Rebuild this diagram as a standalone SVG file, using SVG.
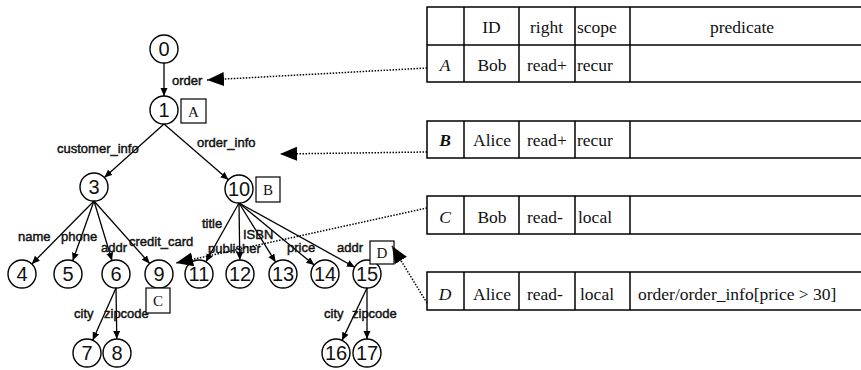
<svg xmlns="http://www.w3.org/2000/svg" width="861" height="370" viewBox="0 0 861 370">
  <style>
    .node circle { fill: #fff; stroke: #000; stroke-width: 1.4; }
    .num { font-family: "Liberation Sans", Arial, sans-serif; font-size: 20px; text-anchor: middle; fill: #111; }
    .edge { stroke: #000; stroke-width: 1.3; fill: none; marker-end: url(#tip); }
    .lbl { font-family: "Liberation Sans", Arial, sans-serif; font-size: 13px; fill: #111; stroke: #111; stroke-width: 0.45; }
    .tag rect { fill: #fff; stroke: #000; stroke-width: 1.2; }
    .tag text { font-family: "Liberation Serif", "Times New Roman", serif; font-size: 15px; text-anchor: middle; fill: #111; }
    .tbl rect, .tbl line { fill: none; stroke: #000; stroke-width: 1.5; }
    .cell { font-family: "Liberation Serif", "Times New Roman", serif; font-size: 17.5px; fill: #111; }
    .mid { text-anchor: middle; }
    .it { font-style: italic; }
    .ref { stroke: #000; stroke-width: 1.5; stroke-dasharray: 1.5 1.5; fill: none; marker-end: url(#big); }
  </style>
  <defs>
    <marker id="tip" markerUnits="userSpaceOnUse" markerWidth="9" markerHeight="8" refX="8" refY="3.5" orient="auto">
      <path d="M0,0 L8,3.5 L0,7 z" fill="#000"/>
    </marker>
    <marker id="big" markerUnits="userSpaceOnUse" markerWidth="18" markerHeight="16" refX="17" refY="7" orient="auto">
      <path d="M0,0 L17,7 L0,14 z" fill="#000"/>
    </marker>
  </defs>

  <rect width="861" height="370" fill="#fff"/>

  <!-- tree edges -->
  <g id="edges">
    <line class="edge" x1="164" y1="63" x2="164" y2="96"/>
    <line class="edge" x1="164" y1="124" x2="104.4" y2="177.6"/>
    <line class="edge" x1="164" y1="124" x2="228.4" y2="179.8"/>
    <line class="edge" x1="94" y1="201" x2="31.8" y2="264"/>
    <line class="edge" x1="94" y1="201" x2="72.7" y2="260.8"/>
    <line class="edge" x1="94" y1="201" x2="112" y2="260.6"/>
    <line class="edge" x1="94" y1="201" x2="149.7" y2="263.5"/>
    <line class="edge" x1="116" y1="288" x2="92.7" y2="340.2"/>
    <line class="edge" x1="116" y1="288" x2="116.8" y2="339"/>
    <line class="edge" x1="239" y1="203" x2="205.9" y2="261.8"/>
    <line class="edge" x1="239" y1="203" x2="239.8" y2="260"/>
    <line class="edge" x1="239" y1="203" x2="275.6" y2="262.1"/>
    <line class="edge" x1="239" y1="203" x2="314.2" y2="265.1"/>
    <line class="edge" x1="239" y1="203" x2="354.8" y2="267.2"/>
    <line class="edge" x1="367" y1="288" x2="342" y2="340.4"/>
    <line class="edge" x1="367" y1="288" x2="367" y2="339"/>
  </g>

  <!-- edge labels -->
  <g id="edge-labels" class="lbl">
    <text x="172" y="85">order</text>
    <text x="57" y="153">customer_info</text>
    <text x="197" y="147">order_info</text>
    <text x="18" y="241">name</text>
    <text x="61" y="241">phone</text>
    <text x="101" y="252">addr</text>
    <text x="129" y="246">credit_card</text>
    <text x="74" y="318">city</text>
    <text x="104" y="318">zipcode</text>
    <text x="202" y="228">title</text>
    <text x="243" y="239">ISBN</text>
    <text x="208" y="253">publisher</text>
    <text x="287" y="252">price</text>
    <text x="337" y="252">addr</text>
    <text x="324" y="318">city</text>
    <text x="352" y="318">zipcode</text>
  </g>

  <!-- tree nodes -->
  <g id="n0" class="node"><circle cx="164" cy="49" r="14"/><text class="num" x="164" y="56">0</text></g>
  <g id="n1" class="node"><circle cx="164" cy="110" r="14"/><text class="num" x="164" y="117">1</text></g>
  <g id="n3" class="node"><circle cx="94" cy="187" r="14"/><text class="num" x="94" y="194">3</text></g>
  <g id="n10" class="node"><circle cx="239" cy="189" r="14"/><text class="num" x="239" y="196">10</text></g>
  <g id="n4" class="node"><circle cx="22" cy="274" r="14"/><text class="num" x="22" y="281">4</text></g>
  <g id="n5" class="node"><circle cx="68" cy="274" r="14"/><text class="num" x="68" y="281">5</text></g>
  <g id="n6" class="node"><circle cx="116" cy="274" r="14"/><text class="num" x="116" y="281">6</text></g>
  <g id="n9" class="node"><circle cx="159" cy="274" r="14"/><text class="num" x="159" y="281">9</text></g>
  <g id="n11" class="node"><circle cx="199" cy="274" r="14"/><text class="num" x="199" y="281">11</text></g>
  <g id="n12" class="node"><circle cx="240" cy="274" r="14"/><text class="num" x="240" y="281">12</text></g>
  <g id="n13" class="node"><circle cx="283" cy="274" r="14"/><text class="num" x="283" y="281">13</text></g>
  <g id="n14" class="node"><circle cx="325" cy="274" r="14"/><text class="num" x="325" y="281">14</text></g>
  <g id="n15" class="node"><circle cx="367" cy="274" r="14"/><text class="num" x="367" y="281">15</text></g>
  <g id="n7" class="node"><circle cx="87" cy="353" r="14"/><text class="num" x="87" y="360">7</text></g>
  <g id="n8" class="node"><circle cx="117" cy="353" r="14"/><text class="num" x="117" y="360">8</text></g>
  <g id="n16" class="node"><circle cx="336" cy="353" r="14"/><text class="num" x="336" y="360">16</text></g>
  <g id="n17" class="node"><circle cx="367" cy="353" r="14"/><text class="num" x="367" y="360">17</text></g>

  <!-- rule tags on nodes -->
  <g id="tagA" class="tag"><rect x="181" y="99" width="25" height="24"/><text x="193.5" y="117">A</text></g>
  <g id="tagB" class="tag"><rect x="256" y="177" width="24" height="25"/><text x="268" y="195">B</text></g>
  <g id="tagC" class="tag"><rect x="146" y="288" width="24" height="25"/><text x="158" y="306">C</text></g>
  <g id="tagD" class="tag"><rect x="370" y="241" width="24" height="23"/><text x="382" y="258">D</text></g>

  <!-- rule table -->
  <g id="rowA" class="tbl">
    <rect x="427" y="7" width="440" height="75"/>
    <line x1="427" y1="45" x2="867" y2="45"/>
    <line x1="464" y1="7" x2="464" y2="82"/>
    <line x1="519" y1="7" x2="519" y2="82"/>
    <line x1="575" y1="7" x2="575" y2="82"/>
    <line x1="630" y1="7" x2="630" y2="82"/>
    <text class="cell mid" x="491.5" y="33">ID</text>
    <text class="cell" x="530" y="33">right</text>
    <text class="cell" x="577" y="33">scope</text>
    <text class="cell mid" x="742" y="33">predicate</text>
    <text class="cell mid it" x="445" y="71">A</text>
    <text class="cell mid" x="492" y="71">Bob</text>
    <text class="cell" x="527" y="71">read+</text>
    <text class="cell" x="577" y="71">recur</text>
  </g>
  <g id="rowB" class="tbl">
    <rect x="427" y="121" width="440" height="37"/>
    <line x1="464" y1="121" x2="464" y2="158"/>
    <line x1="519" y1="121" x2="519" y2="158"/>
    <line x1="575" y1="121" x2="575" y2="158"/>
    <line x1="630" y1="121" x2="630" y2="158"/>
    <text class="cell mid it" x="445" y="146" font-weight="bold">B</text>
    <text class="cell mid" x="492" y="146">Alice</text>
    <text class="cell" x="527" y="146">read+</text>
    <text class="cell" x="577" y="146">recur</text>
  </g>
  <g id="rowC" class="tbl">
    <rect x="427" y="196" width="440" height="38"/>
    <line x1="464" y1="196" x2="464" y2="234"/>
    <line x1="519" y1="196" x2="519" y2="234"/>
    <line x1="575" y1="196" x2="575" y2="234"/>
    <line x1="630" y1="196" x2="630" y2="234"/>
    <text class="cell mid it" x="445" y="223">C</text>
    <text class="cell mid" x="492" y="223">Bob</text>
    <text class="cell" x="527" y="223">read-</text>
    <text class="cell" x="578" y="223">local</text>
  </g>
  <g id="rowD" class="tbl">
    <rect x="427" y="272" width="440" height="38"/>
    <line x1="464" y1="272" x2="464" y2="310"/>
    <line x1="519" y1="272" x2="519" y2="310"/>
    <line x1="575" y1="272" x2="575" y2="310"/>
    <line x1="630" y1="272" x2="630" y2="310"/>
    <text class="cell mid it" x="445" y="300">D</text>
    <text class="cell mid" x="492" y="300">Alice</text>
    <text class="cell" x="527" y="300">read-</text>
    <text class="cell" x="580" y="300">local</text>
    <text class="cell" x="638" y="300">order/order_info[price &gt; 30]</text>
  </g>

  <!-- dotted references from rules to tree -->
  <g id="references">
    <line class="ref" x1="427" y1="68" x2="207" y2="80"/>
    <line class="ref" x1="427" y1="152" x2="280" y2="154"/>
    <line class="ref" x1="427" y1="208" x2="176" y2="263"/>
    <line class="ref" x1="427" y1="303" x2="392" y2="246"/>
  </g>
</svg>
